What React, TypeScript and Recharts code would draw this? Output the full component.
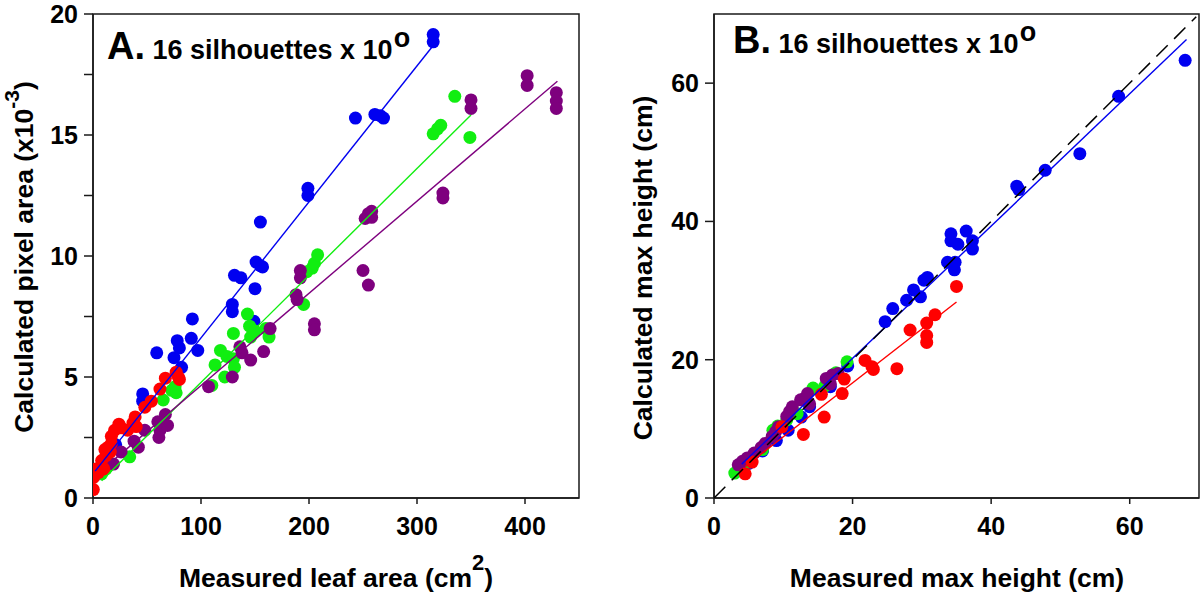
import React from 'react';
import { ScatterChart, Scatter, XAxis, YAxis, ReferenceArea } from 'recharts';

const FONT = '"Liberation Sans", Arial, Helvetica, sans-serif';
const BLUE = '#0000f0';
const RED = '#ff0000';
const GREEN = '#11ee11';
const PURPLE = '#7e007e';
const INK = '#1a1a1a';

// ---------- Panel A: leaf area ----------
const aXTicks = [0, 100, 200, 300, 400];
const aYTicks = [0, 2.5, 5, 7.5, 10, 12.5, 15, 17.5, 20];

const aBlue: number[][] = [
  [2, 1.0], [5, 1.0], [10, 1.3], [21, 2.2], [46, 4.3], [46, 4.0], [59, 6.0], [75, 5.8], [78, 6.5], [80, 6.2],
  [82, 5.4], [91, 6.6], [92, 7.4], [97, 6.1], [129, 8.0], [129, 7.7], [131, 9.2], [137, 9.1], [150, 8.65],
  [149, 7.3], [151, 9.75], [155, 9.6], [157, 9.55], [155, 11.4], [199, 12.8], [199, 12.5], [243, 15.7],
  [261, 15.85], [266, 15.8], [269, 15.7], [315, 19.15], [315, 18.85],
];
const aGreen: number[][] = [
  [8, 1.0], [12, 1.2], [34, 1.7], [65, 4.05], [73, 4.45], [76, 4.6], [77, 4.35], [110, 4.65], [113, 5.5],
  [118, 6.1], [122, 5.0], [124, 5.85], [130, 5.75], [131, 5.4], [130, 6.8], [143, 7.6], [145, 7.1], [146, 6.65],
  [150, 6.9], [160, 7.0], [163, 6.65], [195, 8.0], [198, 9.35], [203, 9.5], [205, 9.7], [208, 10.05],
  [315, 15.05], [319, 15.25], [322, 15.4], [335, 16.6], [349, 14.9],
];
const aPurple: number[][] = [
  [19, 1.4], [26, 1.9], [38, 2.35], [42, 2.1], [48, 2.8], [60, 3.15], [62, 2.8], [61, 2.5], [67, 3.45], [69, 3.0],
  [107, 4.6], [129, 5.0], [136, 6.25], [138, 6.0], [146, 5.7], [158, 6.05], [164, 7.0], [188, 8.4], [189, 8.2],
  [192, 9.4], [192, 9.1], [205, 7.2], [205, 6.95], [250, 9.4], [255, 8.8], [252, 11.55], [255, 11.75],
  [258, 11.85], [258, 11.6], [324, 12.6], [324, 12.4], [350, 16.45], [350, 16.1], [402, 17.45], [402, 17.05],
  [429, 16.75], [429, 16.4], [429, 16.1],
];
const aRed: number[][] = [
  [0.3, 0.35], [0.5, 0.85], [3, 1.2], [5, 1.05], [8, 1.3], [8, 1.55], [10, 1.2], [11, 2.0], [12, 1.75], [14, 2.1],
  [16, 1.9], [17, 2.25], [17, 2.55], [20, 2.8], [24, 3.05], [26, 2.9], [32, 2.8], [37, 3.1], [39, 3.35], [40, 2.95],
  [48, 3.75], [54, 4.0], [62, 4.5], [67, 4.95], [77, 5.2], [79, 5.0], [80, 4.9],
];
const aBlueFit: number[][] = [[2, 1.11], [315, 18.7]];
const aGreenFit: number[][] = [[8, 0.71], [350, 15.83]];
const aPurpleFit: number[][] = [[15, 1.41], [430, 17.22]];

// ---------- Panel B: max height ----------
const bTicks = [0, 20, 40, 60];

const bBlue: number[][] = [
  [5, 5], [7, 6.8], [9, 8.3], [10.7, 9.8], [12.6, 11.7], [13.8, 13.2], [16.8, 16.1], [19.3, 19.1], [24.7, 25.5],
  [25.8, 27.4], [27.8, 28.6], [28.8, 30.1], [29.8, 29.1], [30.3, 31.5], [30.8, 31.9], [33.7, 34.1], [34.8, 34.1],
  [34.7, 33.0], [34.2, 38.2], [34.2, 37.2], [35.2, 36.7], [36.4, 38.6], [37.3, 37.2], [37.3, 36.0], [43.7, 45.1],
  [44, 44.6], [47.8, 47.4], [52.8, 49.8], [58.4, 58.1], [68, 63.3],
];
const bGreen: number[][] = [
  [3, 3.6], [5, 5.2], [7, 7], [8.5, 9.8], [9.2, 10.4], [10.5, 11.3], [12, 12.2], [14.3, 15.9], [16, 16.2],
  [17.6, 18.1], [19.2, 19.7],
];
const bPurple: number[][] = [
  [3.5, 4.8], [4.1, 5.3], [4.8, 5.8], [5.8, 6.5], [6.8, 7.3], [7.4, 7.9], [8.4, 8.9], [8.9, 9.6], [9.3, 10.3],
  [10.5, 11.8], [10.9, 12.5], [11.3, 13.2], [12.5, 14.2], [13.2, 14.5], [13.5, 15.1], [13.8, 13.6], [16.2, 17.3],
  [16.8, 16.5], [17.1, 17.8], [17.9, 18.0],
];
const bRed: number[][] = [
  [4.5, 3.5], [5.5, 5.2], [9.8, 10.3], [12.9, 9.2], [15.5, 15.0], [15.9, 11.7], [18.5, 15.1], [18.8, 17.2],
  [21.8, 19.9], [22.8, 19.0], [23, 18.6], [26.4, 18.7], [28.3, 24.3], [30.7, 23.5], [30.7, 22.5], [30.7, 25.3],
  [31.9, 26.5], [35, 30.6],
];
const bIdentity: number[][] = [[0, 0], [69.6, 69.6]];
const bBlueFit: number[][] = [[4, 4.9], [68.2, 66.3]];
const bRedFit: number[][] = [[4.5, 4.56], [35, 28.35]];

const pts = (arr: number[][]) => arr.map(([x, y]) => ({ x, y }));

const dot = (color: string) => (p: any) => <circle cx={p.cx} cy={p.cy} r={6.5} fill={color} />;
const noDot = () => <g />;

const tickStyle = { fill: '#000', fontSize: 25, fontWeight: 700, fontFamily: FONT };
const lineStyle = { stroke: INK, strokeWidth: 1.5 };
const textStyle: React.CSSProperties = { fontFamily: FONT, fontWeight: 700, fill: '#000' };

const Title = ({ x, y, letter }: { x: number; y: number; letter: string }) => (
  <text x={x} y={y} style={textStyle}>
    <tspan fontSize={38}>{letter}</tspan>
    <tspan fontSize={27}>{' 16 silhouettes x 10'}</tspan>
    <tspan fontSize={27} dy={-12} dx={1}>o</tspan>
  </text>
);

function PanelA() {
  return (
    <ScatterChart width={600} height={593} margin={{ top: 14, right: 21, bottom: 0, left: 0 }}>
      <XAxis
        type="number" dataKey="x" domain={[0, 450]} ticks={aXTicks} interval={0} height={95}
        tickSize={6} tickMargin={13} axisLine={lineStyle} tickLine={lineStyle} tick={tickStyle} allowDataOverflow
        label={() => (
          <text x={336} y={587} textAnchor="middle" style={textStyle} fontSize={26.5}>
            Measured leaf area (cm
            <tspan fontSize={22} dy={-17}>2</tspan>
            <tspan fontSize={26.5} dy={17}>)</tspan>
          </text>
        )}
      />
      <YAxis
        type="number" dataKey="y" domain={[0, 20]} ticks={aYTicks} interval={0} width={93}
        tickFormatter={(v: number) => (v % 5 === 0 ? String(v) : '')}
        tickSize={9} tickMargin={6} axisLine={lineStyle} tickLine={lineStyle} tick={tickStyle} allowDataOverflow
        label={() => (
          <text x={33} y={257} transform="rotate(-90, 33, 257)" textAnchor="middle" style={textStyle} fontSize={26.5}>
            Calculated pixel area (x10
            <tspan fontSize={21} dy={-14}>-3</tspan>
            <tspan fontSize={26.5} dy={14}>)</tspan>
          </text>
        )}
      />
      <ReferenceArea x1={0} x2={450} y1={0} y2={20} fill="none" stroke={INK} strokeWidth={1.5} fillOpacity={0}
        label={(p: any) => <Title x={(p?.viewBox?.x ?? 93) + 14} y={(p?.viewBox?.y ?? 14) + 45} letter="A." />}
      />
      <Scatter data={pts(aBlue)} shape={dot(BLUE)} isAnimationActive={false} />
      <Scatter data={pts(aGreen)} shape={dot(GREEN)} isAnimationActive={false} />
      <Scatter data={pts(aPurple)} shape={dot(PURPLE)} isAnimationActive={false} />
      <Scatter data={pts(aRed)} shape={dot(RED)} isAnimationActive={false} />
      <Scatter data={pts(aBlueFit)} shape={noDot} line={{ stroke: BLUE, strokeWidth: 1.4 }} isAnimationActive={false} />
      <Scatter data={pts(aGreenFit)} shape={noDot} line={{ stroke: GREEN, strokeWidth: 1.4 }} isAnimationActive={false} />
      <Scatter data={pts(aPurpleFit)} shape={noDot} line={{ stroke: PURPLE, strokeWidth: 1.4 }} isAnimationActive={false} />
    </ScatterChart>
  );
}

function PanelB() {
  return (
    <ScatterChart width={600} height={593} margin={{ top: 14, right: 1, bottom: 0, left: 0 }}>
      <XAxis
        type="number" dataKey="x" domain={[0, 70]} ticks={bTicks} interval={0} height={95}
        tickSize={6} tickMargin={13} axisLine={lineStyle} tickLine={lineStyle} tick={tickStyle} allowDataOverflow
        label={() => (
          <text x={357} y={587} textAnchor="middle" style={textStyle} fontSize={26.5}>
            Measured max height (cm)
          </text>
        )}
      />
      <YAxis
        type="number" dataKey="y" domain={[0, 70]} ticks={bTicks} interval={0} width={114}
        tickSize={9} tickMargin={6} axisLine={lineStyle} tickLine={lineStyle} tick={tickStyle} allowDataOverflow
        label={() => (
          <text x={52} y={268} transform="rotate(-90, 52, 268)" textAnchor="middle" style={textStyle} fontSize={26.5}>
            Calculated max height (cm)
          </text>
        )}
      />
      <ReferenceArea x1={0} x2={70} y1={0} y2={70} fill="none" stroke={INK} strokeWidth={1.5} fillOpacity={0}
        label={(p: any) => <Title x={(p?.viewBox?.x ?? 114) + 19} y={(p?.viewBox?.y ?? 14) + 39} letter="B." />}
      />
      <Scatter data={pts(bBlue)} shape={dot(BLUE)} isAnimationActive={false} />
      <Scatter data={pts(bGreen)} shape={dot(GREEN)} isAnimationActive={false} />
      <Scatter data={pts(bPurple)} shape={dot(PURPLE)} isAnimationActive={false} />
      <Scatter data={pts(bRed)} shape={dot(RED)} isAnimationActive={false} />
      <Scatter data={pts(bBlueFit)} shape={noDot} line={{ stroke: BLUE, strokeWidth: 1.4 }} isAnimationActive={false} />
      <Scatter data={pts(bRedFit)} shape={noDot} line={{ stroke: RED, strokeWidth: 1.4 }} isAnimationActive={false} />
      <Scatter data={pts(bIdentity)} shape={noDot} line={{ stroke: '#000', strokeWidth: 1.5, strokeDasharray: '16 9' }} isAnimationActive={false} />
    </ScatterChart>
  );
}

export default function App() {
  return (
    <div style={{ position: 'absolute', left: 0, top: 0, width: 1200, height: 593, background: '#fff', overflow: 'hidden' }}>
      <div style={{ position: 'absolute', left: 0, top: 0 }}>
        <PanelA />
      </div>
      <div style={{ position: 'absolute', left: 600, top: 0 }}>
        <PanelB />
      </div>
    </div>
  );
}
